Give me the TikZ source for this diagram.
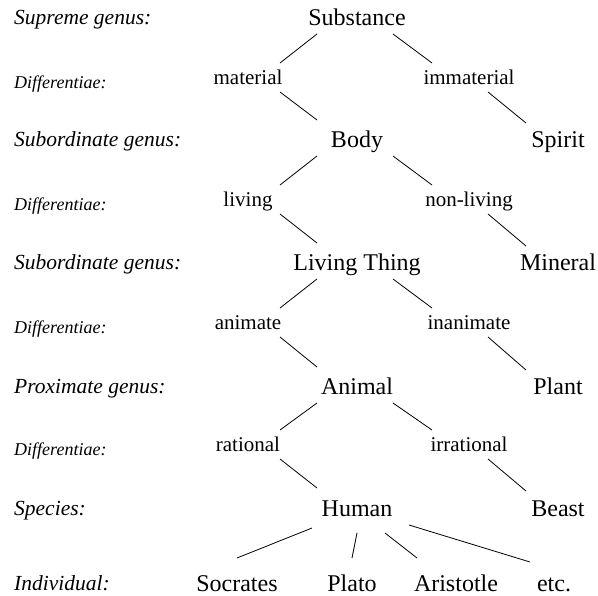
\documentclass[tikz,border=0pt]{standalone}
\usepackage{fontspec}
\setmainfont{Liberation Serif}

\begin{document}
\begin{tikzpicture}[
            x=1pt, y=-1pt,
            gen/.style={font=\fontsize{24}{28}\selectfont, inner sep=0pt, text height=16pt, text depth=0pt},
            dif/.style={font=\fontsize{21}{25}\selectfont, inner sep=0pt, text height=13pt, text depth=0pt},
            lab/.style={font=\fontsize{21.5}{26}\selectfont\itshape, anchor=west, inner sep=0pt, text height=14pt, text depth=0pt},
            dlab/.style={font=\fontsize{18}{22}\selectfont\itshape, anchor=west, inner sep=0pt, text height=12pt, text depth=0pt},
            br/.style={line width=0.8pt}
        ]
            \useasboundingbox (0,0) rectangle (598,596);

            % row labels
            \node[lab]  (l1)  at (14,18)  {Supreme genus:};
            \node[dlab] (l2)  at (14,83)  {Differentiae:};
            \node[lab]  (l3)  at (14,140) {Subordinate genus:};
            \node[dlab] (l4)  at (14,205) {Differentiae:};
            \node[lab]  (l5)  at (14,263) {Subordinate genus:};
            \node[dlab] (l6)  at (14,328) {Differentiae:};
            \node[lab]  (l7)  at (14,387) {Proximate genus:};
            \node[dlab] (l8)  at (14,450) {Differentiae:};
            \node[lab]  (l9)  at (14,508) {Species:};
            \node[lab]  (l10) at (14,583) {Individual:};

            % tree
            \node[gen] (sub)     at (357,18)  {Substance};
            \node[dif] (mat)     at (248,78)  {material};
            \node[dif] (immat)   at (469,78)  {immaterial};
            \node[gen] (body)    at (357,140) {Body};
            \node[gen] (spirit)  at (558,140) {Spirit};
            \node[dif] (liv)     at (248,200) {living};
            \node[dif] (nonliv)  at (469,200) {non-living};
            \node[gen] (lthing)  at (357,263) {Living Thing};
            \node[gen] (mineral) at (558,263) {Mineral};
            \node[dif] (anim)    at (248,323) {animate};
            \node[dif] (inanim)  at (469,323) {inanimate};
            \node[gen] (animal)  at (357,387) {Animal};
            \node[gen] (plant)   at (558,387) {Plant};
            \node[dif] (rat)     at (248,445) {rational};
            \node[dif] (irrat)   at (469,445) {irrational};
            \node[gen] (human)   at (357,508) {Human};
            \node[gen] (beast)   at (558,508) {Beast};
            \node[gen] (socr)    at (237,583) {Socrates};
            \node[gen] (plato)   at (352,583) {Plato};
            \node[gen] (arist)   at (456,583) {Aristotle};
            \node[gen] (etc)     at (554,583) {etc.};

            % branches
            \draw[br] ([shift={(-40,16)}]sub.center) -- ([shift={(32,-15)}]mat.center);
            \draw[br] ([shift={(36,16)}]sub.center) -- ([shift={(-37,-15)}]immat.center);
            \draw[br] ([shift={(32,14)}]mat.center) -- ([shift={(-40,-20)}]body.center);
            \draw[br] ([shift={(19,14)}]immat.center) -- ([shift={(-32,-17)}]spirit.center);

            \draw[br] ([shift={(-40,16)}]body.center) -- ([shift={(32,-15)}]liv.center);
            \draw[br] ([shift={(36,16)}]body.center) -- ([shift={(-37,-15)}]nonliv.center);
            \draw[br] ([shift={(32,14)}]liv.center) -- ([shift={(-40,-20)}]lthing.center);
            \draw[br] ([shift={(19,14)}]nonliv.center) -- ([shift={(-32,-17)}]mineral.center);

            \draw[br] ([shift={(-40,16)}]lthing.center) -- ([shift={(32,-15)}]anim.center);
            \draw[br] ([shift={(36,16)}]lthing.center) -- ([shift={(-37,-15)}]inanim.center);
            \draw[br] ([shift={(32,14)}]anim.center) -- ([shift={(-40,-20)}]animal.center);
            \draw[br] ([shift={(19,14)}]inanim.center) -- ([shift={(-32,-17)}]plant.center);

            \draw[br] ([shift={(-40,16)}]animal.center) -- ([shift={(32,-15)}]rat.center);
            \draw[br] ([shift={(36,16)}]animal.center) -- ([shift={(-37,-15)}]irrat.center);
            \draw[br] ([shift={(32,14)}]rat.center) -- ([shift={(-40,-20)}]human.center);
            \draw[br] ([shift={(19,14)}]irrat.center) -- ([shift={(-32,-17)}]beast.center);

            \draw[br] ([shift={(-45,20)}]human.center) -- ([shift={(0,-25)}]socr.center);
            \draw[br] ([shift={(0,25)}]human.center) -- ([shift={(0,-25)}]plato.center);
            \draw[br] ([shift={(28,25)}]human.center) -- ([shift={(-39,-25)}]arist.center);
            \draw[br] ([shift={(52,17)}]human.center) -- ([shift={(-24,-21)}]etc.center);
        \end{tikzpicture}
\end{document}
